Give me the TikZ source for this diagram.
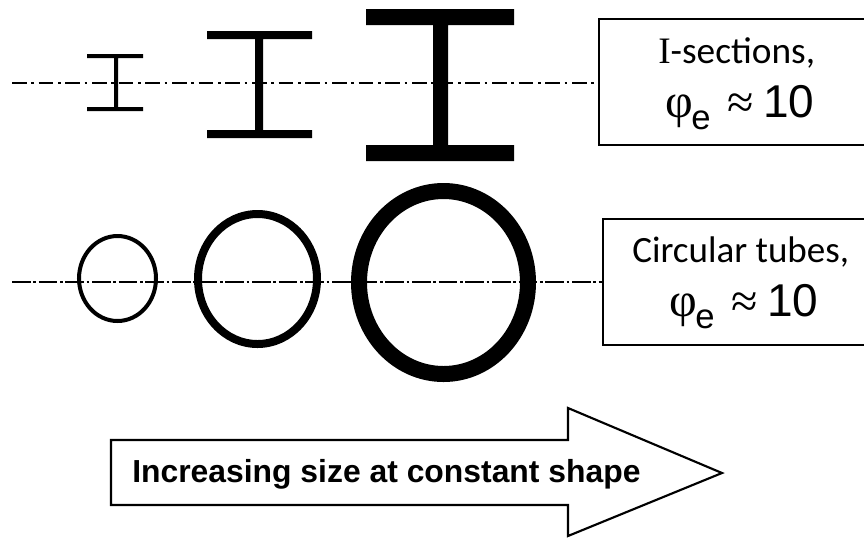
\documentclass[tikz,border=0pt]{standalone}
\usepackage{fontspec}
\setmainfont{Liberation Sans}
\newfontfamily\calib{Carlito}
\newfontfamily\serifx{Liberation Serif}
\tikzset{
 x=0.75pt,y=-0.75pt,
 solidblk/.style={fill=black,draw=none},
 tube/.style={draw=black,fill=none},
 axisone/.style={line width=0.9pt,draw=black,dash pattern=on 11pt off 3.5pt on 2pt off 3.5pt},
 axistwo/.style={line width=1.5pt,draw=black,dash pattern=on 14pt off 2pt on 2pt off 2pt},
 boxshape/.style={draw=black,line width=1.5pt,fill=white,inner sep=0pt,minimum height=94.5pt,minimum width=210pt,anchor=west},
 lab/.style={anchor=base west,inner sep=0pt,text=black},
 arrowshape/.style={draw=black,line width=1.6pt,fill=white,line join=miter},
}
\begin{document}
\begin{tikzpicture}
\useasboundingbox (0,0) rectangle (864,537);
\clip (0,0) rectangle (864,537);
\fill[white] (0,0) rectangle (864,537);
% boxes
\node[boxshape] (boxa) at (597.5,82) {};
\node[boxshape] (boxb) at (601.5,281.5) {};
% axes
\coordinate (axa) at (12,83);
\coordinate (axb) at (12,282);
\draw[axisone] (axa) -- (axa -| boxa.west);
\draw[axistwo] (axb) -- (axb -| boxb.west);
% I sections
\fill[solidblk] (87,54) rectangle (143,58) (87,107) rectangle (143,111) (114,58) rectangle (118,107);
\fill[solidblk] (207,31) rectangle (312,39) (207,130) rectangle (312,138) (255,39) rectangle (263,130);
\fill[solidblk] (366,9) rectangle (514,25) (366,145) rectangle (514,161) (433,25) rectangle (448,145);
% tubes
\draw[tube,line width=3pt] (117.5,278.5) ellipse [x radius=38.5,y radius=42.5];
\draw[tube,line width=6pt] (257.5,279) ellipse [x radius=59.5,y radius=65];
\draw[tube,line width=12pt] (443.5,282.5) ellipse [x radius=84.5,y radius=91.5];
% arrow
\draw[arrowshape] (111,440) -- (568,440) -- (568,408) -- (722,473) -- (568,536) -- (568,505) -- (111,505) -- cycle;
% labels
\node[lab,font=\fontsize{23.9}{26}\selectfont\bfseries] (arrowtext) at (132,482) {Increasing size at constant shape};
\node[lab,font=\calib\fontsize{28}{30}\selectfont] (la) at (658,63) {{\serifx I}-sections,};
\node[lab,font=\serifx\fontsize{36}{38}\selectfont] (pa) at (665,117) {φ};
\node[lab,font=\fontsize{26}{28}\selectfont] (ea) at (691,129) {e};
\node[lab,font=\serifx\fontsize{36}{38}\selectfont] (aa) at (727,118) {≈};
\node[lab,font=\fontsize{34.5}{36}\selectfont] (na) at (763,117) {10};
\node[lab,font=\calib\fontsize{27.8}{30}\selectfont] (lb) at (632,262) {Circular tubes,};
\node[lab,font=\serifx\fontsize{36}{38}\selectfont] (pb) at (669,316) {φ};
\node[lab,font=\fontsize{26}{28}\selectfont] (eb) at (695,328) {e};
\node[lab,font=\serifx\fontsize{36}{38}\selectfont] (ab) at (731,317) {≈};
\node[lab,font=\fontsize{34.5}{36}\selectfont] (nb) at (767,316) {10};
\end{tikzpicture}
\end{document}
